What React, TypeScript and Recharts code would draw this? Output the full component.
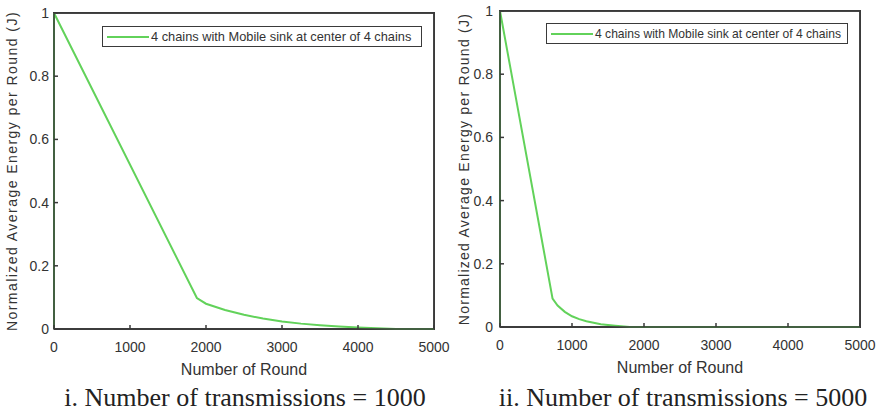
import { LineChart, Line, XAxis, YAxis, Legend, ReferenceArea, CartesianGrid } from 'recharts';

const roundTicks = [0, 1000, 2000, 3000, 4000, 5000];
const energyTicks = [0, 0.2, 0.4, 0.6, 0.8, 1];
const frameRounds = [0, 5000];
const frameEnergy = [0, 1];

const seriesName = '4 chains with Mobile sink at center of 4 chains';

// i. 1000 transmissions
const rounds1000 = [0, 0, 1880, 2000, 2250, 2500, 2750, 3000, 3250, 3500, 3750, 4000, 4250, 4500, 5000];
const energy1000 = [0, 1, 0.098, 0.08, 0.06, 0.045, 0.033, 0.024, 0.017, 0.012, 0.008, 0.005, 0.002, 0, 0];

// ii. 5000 transmissions
const rounds5000 = [0, 0, 730, 800, 900, 1000, 1100, 1200, 1400, 1600, 1800, 5000];
const energy5000 = [0, 1, 0.09, 0.068, 0.048, 0.034, 0.025, 0.018, 0.009, 0.004, 0, 0];

const captions = ['i. Number of transmissions = 1000', 'ii. Number of transmissions = 5000'];

const GREEN = '#62d25a';
const AXIS = '#3a3a3a';
const SANS = '"Liberation Sans", Arial, sans-serif';
const TICK_LEN = 4;
const X_MARGIN = 10;
const CHART_H = 380;
const X_AXIS_H = 48;

type PanelProps = {
  rounds: number[];
  energy: number[];
  x: number;
  width: number;
  yAxisWidth: number;
  marginTop: number;
  marginRight: number;
  marginBottom: number;
  yTickMargin: number;
  yLabelOffset: number;
  yLabelSpacing: number;
  legendLeft: number;
  legendTop: number;
  legendWidth: number;
  legendFont: number;
  caption: string;
  captionCenter: number;
};

const textStyle = { fill: '#333', fontSize: 14, fontFamily: SANS };

// MATLAB-like inward tick marks drawn with the labels
const BottomTick = ({ x, y, payload }: any) => (
  <g>
    <line x1={x} y1={y - X_MARGIN} x2={x} y2={y - X_MARGIN - TICK_LEN} stroke={AXIS} strokeWidth={1.5} />
    <text x={x} y={y} dy={13} textAnchor="middle" style={textStyle}>
      {payload.value}
    </text>
  </g>
);

const makeLeftTick = (margin: number) => ({ x, y, payload }: any) => (
  <g>
    <line x1={x + margin} y1={y} x2={x + margin + TICK_LEN} y2={y} stroke={AXIS} strokeWidth={1.5} />
    <text x={x} y={y} dy={5} textAnchor="end" style={textStyle}>
      {payload.value}
    </text>
  </g>
);

const TopTick = ({ x, y }: any) => (
  <line x1={x} y1={y} x2={x} y2={y + TICK_LEN} stroke={AXIS} strokeWidth={1.5} />
);

const RightTick = ({ x, y }: any) => (
  <line x1={x} y1={y} x2={x - TICK_LEN} y2={y} stroke={AXIS} strokeWidth={1.5} />
);

const LegendBox = ({ width, font }: { width: number; font: number }) => (
  <div
    style={{
      width,
      height: 19,
      border: `1.5px solid ${AXIS}`,
      background: '#fff',
      display: 'flex',
      alignItems: 'center',
      fontFamily: SANS,
      fontSize: font,
      color: '#333',
      whiteSpace: 'nowrap',
      boxSizing: 'content-box',
    }}
  >
    <svg width={48} height={10} style={{ flex: 'none' }}>
      <line x1={4} y1={5} x2={46} y2={5} stroke={GREEN} strokeWidth={2} />
    </svg>
    <span>{seriesName}</span>
  </div>
);

const Panel = (p: PanelProps) => {
  const data = p.rounds.map((r, i) => ({ round: r, energy: p.energy[i] }));
  const LeftTick = makeLeftTick(p.yTickMargin);
  const plotLeft = p.yAxisWidth;
  const plotRight = p.width - p.marginRight;
  const plotTop = p.marginTop;
  const plotBottom = CHART_H - p.marginBottom - X_AXIS_H;
  return (
    <div style={{ position: 'absolute', left: p.x, top: 0, width: p.width, height: 416 }}>
      <LineChart
        width={p.width}
        height={CHART_H}
        data={data}
        margin={{ top: p.marginTop, right: p.marginRight, left: 0, bottom: p.marginBottom }}
      >
        <CartesianGrid
          horizontalValues={frameEnergy}
          verticalValues={frameRounds}
          stroke={AXIS}
          strokeWidth={1.5}
          fill="none"
        />
        <XAxis
          dataKey="round"
          type="number"
          domain={[0, 5000]}
          ticks={roundTicks}
          height={X_AXIS_H}
          tickSize={0}
          tickMargin={X_MARGIN}
          axisLine={{ stroke: AXIS, strokeWidth: 1.5 }}
          tickLine={false}
          tick={<BottomTick />}
          label={{
            value: 'Number of Round',
            position: 'insideBottom',
            offset: 2,
            style: { fill: '#333', fontSize: 16, fontFamily: SANS },
          }}
        />
        <XAxis
          xAxisId="top"
          orientation="top"
          type="number"
          domain={[0, 5000]}
          ticks={roundTicks}
          height={0}
          tickSize={0}
          tickMargin={0}
          axisLine={false}
          tickLine={false}
          tick={<TopTick />}
        />
        <YAxis
          type="number"
          domain={[0, 1]}
          ticks={energyTicks}
          width={p.yAxisWidth}
          tickSize={0}
          tickMargin={p.yTickMargin}
          axisLine={{ stroke: AXIS, strokeWidth: 1.5 }}
          tickLine={false}
          tick={<LeftTick />}
          label={{
            value: 'Normalized Average Energy per Round (J)',
            angle: -90,
            position: 'insideLeft',
            offset: p.yLabelOffset,
            style: {
              textAnchor: 'middle',
              fill: '#333',
              fontSize: 14,
              fontFamily: SANS,
              letterSpacing: p.yLabelSpacing,
            },
          }}
        />
        <YAxis
          yAxisId="right"
          orientation="right"
          type="number"
          domain={[0, 1]}
          ticks={energyTicks}
          width={0}
          tickSize={0}
          tickMargin={0}
          axisLine={false}
          tickLine={false}
          tick={<RightTick />}
        />
        <ReferenceArea
          x1={0}
          x2={5000}
          y1={0}
          y2={1}
          fill="none"
          fillOpacity={0}
          stroke={AXIS}
          strokeWidth={1.5}
          ifOverflow="visible"
        />
        <Legend
          layout="horizontal"
          verticalAlign="middle"
          align="center"
          wrapperStyle={{ left: p.legendLeft, top: p.legendTop, width: 'auto' }}
          content={() => <LegendBox width={p.legendWidth} font={p.legendFont} />}
        />
        <Line
          type="linear"
          dataKey="energy"
          name={seriesName}
          stroke={GREEN}
          strokeWidth={2}
          dot={false}
          isAnimationActive={false}
        />
      </LineChart>
      {/* plot frame on top, in case the svg frame is not painted */}
      <div
        style={{
          position: 'absolute',
          zIndex: 5,
          pointerEvents: 'none',
          left: plotLeft - 1,
          top: plotTop - 1,
          width: plotRight - plotLeft + 2,
          height: plotBottom - plotTop + 2,
          borderTop: `1.5px solid ${AXIS}`,
          borderRight: `1.5px solid ${AXIS}`,
          boxSizing: 'border-box',
        }}
      />
      <div
        style={{
          position: 'absolute',
          top: 383,
          left: p.captionCenter - p.x - 220,
          width: 440,
          textAlign: 'center',
          fontFamily: '"Liberation Serif", "Times New Roman", serif',
          fontSize: 26,
          lineHeight: '30px',
          color: '#222',
          whiteSpace: 'nowrap',
        }}
      >
        {p.caption}
      </div>
    </div>
  );
};

export default function App() {
  return (
    <div style={{ position: 'absolute', left: 0, top: 0, width: 881, height: 416, background: '#fff', overflow: 'hidden' }}>
      <Panel
        rounds={rounds1000}
        energy={energy1000}
        x={0}
        width={460}
        yAxisWidth={54}
        marginTop={13}
        marginRight={26}
        marginBottom={3}
        yTickMargin={5}
        yLabelOffset={12}
        yLabelSpacing={1.45}
        legendLeft={102}
        legendTop={26}
        legendWidth={318}
        legendFont={12.8}
        caption={captions[0]}
        captionCenter={245}
      />
      <Panel
        rounds={rounds5000}
        energy={energy5000}
        x={440}
        width={441}
        yAxisWidth={60}
        marginTop={11}
        marginRight={21}
        marginBottom={5}
        yTickMargin={7}
        yLabelOffset={24}
        yLabelSpacing={1.25}
        legendLeft={106}
        legendTop={23}
        legendWidth={300}
        legendFont={12.1}
        caption={captions[1]}
        captionCenter={683}
      />
    </div>
  );
}
